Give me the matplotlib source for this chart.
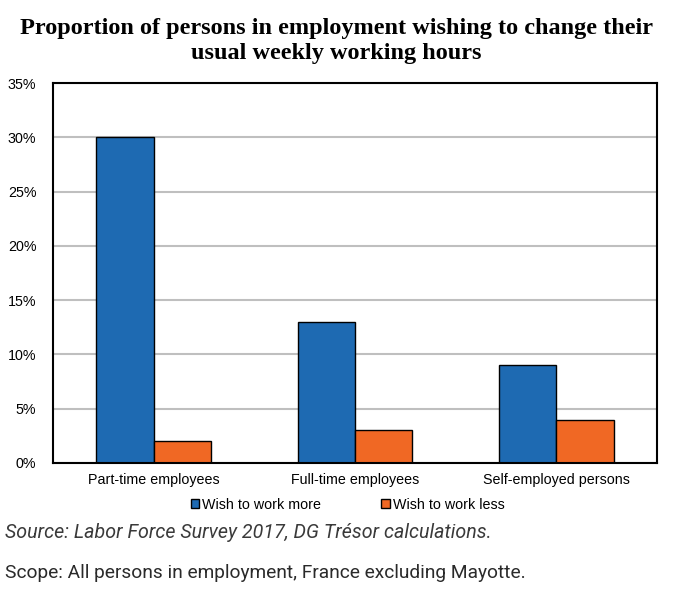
import matplotlib.pyplot as plt
import numpy as np
from matplotlib.ticker import FuncFormatter

categories = ["Part-time employees", "Full-time employees", "Self-employed persons"]
wish_more = [30, 13, 9]
wish_less = [2, 3, 4]
series_names = ["Wish to work more", "Wish to work less"]

blue = "#1e6ab2"
orange = "#f06824"

fig = plt.figure(figsize=(6.73, 5.95), dpi=100)
ax = fig.add_axes([53 / 673, 1 - 463 / 595, 604 / 673, 380 / 595])

x = np.arange(len(categories))
w = 0.284
ax.bar(x - w / 2, wish_more, w, color=blue, edgecolor="black", linewidth=1.0,
       label=series_names[0], zorder=3)
ax.bar(x + w / 2, wish_less, w, color=orange, edgecolor="black", linewidth=1.0,
       label=series_names[1], zorder=3)

ax.set_xlim(-0.5, 2.5)
ax.set_ylim(0, 35)
ax.set_yticks(np.arange(0, 36, 5))
ax.yaxis.set_major_formatter(FuncFormatter(lambda v, p: f"{v:.0f}%"))
ax.set_xticks(x)
ax.set_xticklabels(categories)
ax.tick_params(axis="x", length=0, labelsize=10.3, pad=7)
ax.tick_params(axis="y", length=0, labelsize=10.3, pad=12)
for lab in ax.get_xticklabels() + ax.get_yticklabels():
    lab.set_fontfamily("Liberation Sans")
ax.yaxis.grid(True, color="#bfbfbf", linewidth=1.5, zorder=0)
for s in ax.spines.values():
    s.set_linewidth(1.5)
    s.set_color("black")
ax.spines["bottom"].set_zorder(4)

leg = ax.legend(loc="upper center", bbox_to_anchor=(0.488, -0.058), ncol=2,
                frameon=False, handlelength=0.6, handleheight=0.6,
                handletextpad=0.2, columnspacing=4.2,
                prop={"family": "Liberation Sans", "size": 10.3})

fig.text(0.5, 1 - 41 / 595, "Proportion of persons in employment wishing to change their\nusual weekly working hours",
         ha="center", va="center", fontsize=17.5, fontweight="bold",
         family="Liberation Serif", linespacing=1.25)

fig.text(5 / 673, 1 - 533 / 595, "Source: Labor Force Survey 2017, DG Trésor calculations.",
         ha="left", va="center", fontsize=14.1, style="italic", family="Roboto",
         color="#3a3a3a")
fig.text(5 / 673, 1 - 573 / 595, "Scope: All persons in employment, France excluding Mayotte.",
         ha="left", va="center", fontsize=13.8, family="Roboto",
         color="#2a2a2a")

fig.savefig("out.png", dpi=100)
